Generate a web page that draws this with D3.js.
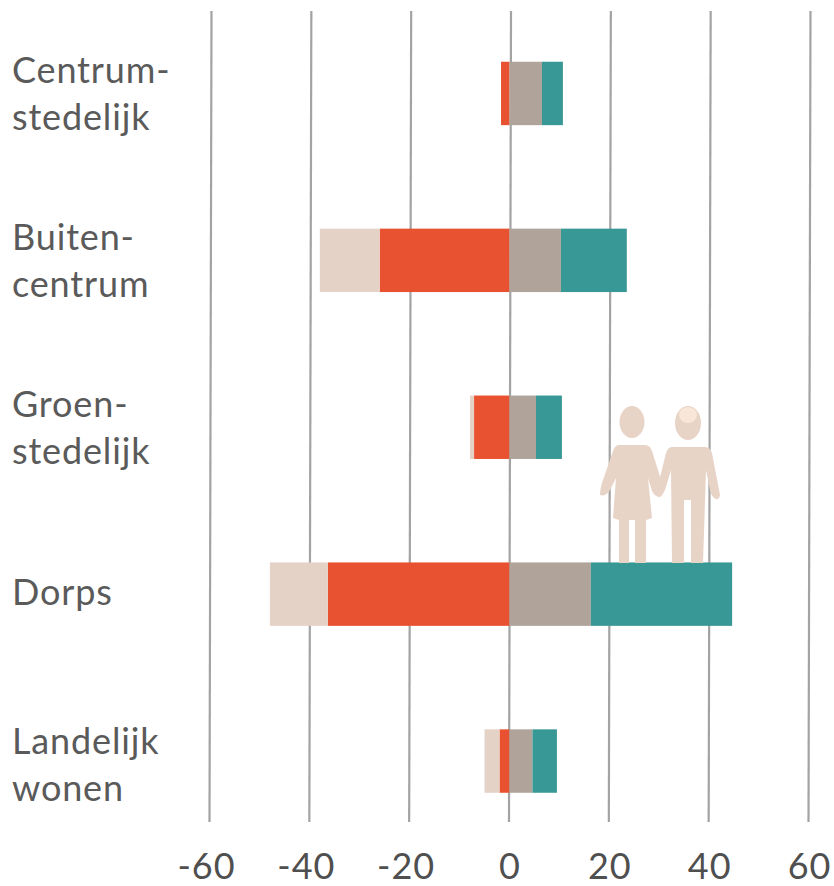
<!DOCTYPE html>
<html>
<head>
<meta charset="utf-8">
<script src="https://cdn.jsdelivr.net/npm/d3@7"></script>
<style>
  html, body { margin: 0; background: #fff; }
  svg { display: block; }
  text { font-family: Lato, "Open Sans", sans-serif; }
</style>
</head>
<body>
<svg width="834" height="886"></svg>
<script>
(function () {
  "use strict";
  const categories = ["Centrum-stedelijk", "Buiten-centrum", "Groen-stedelijk", "Dorps", "Landelijk wonen"];
  const categoryLines = [["Centrum-", "stedelijk"], ["Buiten-", "centrum"], ["Groen-", "stedelijk"], ["Dorps"], ["Landelijk", "wonen"]];
  const redValues = [-1.7, -26, -7.1, -36.4, -2];
  const paleValues = [0, -12, -0.8, -11.6, -3];
  const greyValues = [6.5, 10.3, 5.3, 16.3, 4.6];
  const tealValues = [4.2, 13.2, 5.2, 28.3, 4.9];
  const tickValues = [-60, -40, -20, 0, 20, 40, 60];

  const seriesKeys = ["red", "pale", "grey", "teal"];
  const colors = { red: "#e95230", pale: "#e5d2c6", grey: "#b0a399", teal: "#389896" };

  const svg = d3.select("svg");
  const gridTop = 11;
  const gridBottom = 822;

  const x = d3.scaleLinear().domain([-60, 60]).range([210, 809]);
  const y = d3.scaleBand()
    .domain(categories)
    .range([10, 844.5])
    .paddingInner(0.62)
    .paddingOuter(0.31);

  // gridlines are just the axis ticks pulled up the full height
  const axis = svg.append("g")
    .attr("transform", `translate(0, ${gridBottom})`)
    .call(d3.axisBottom(x)
      .tickValues(tickValues)
      .tickFormat((d) => String(d))
      .tickSizeInner(-(gridBottom - gridTop))
      .tickSizeOuter(0)
      .tickPadding(31));
  axis.select(".domain").remove();
  // the original lines lean very slightly to the right going up
  axis.selectAll(".tick line")
    .attr("x1", -1)
    .attr("x2", 1)
    .attr("stroke", "#a3a3a3")
    .attr("stroke-width", 2.2);
  axis.selectAll(".tick text")
    .attr("fill", "#4f4f4f")
    .style("letter-spacing", "1px")
    .style("font-size", "36px");
  axis.selectAll(".tick").filter((d) => d < 0).select("text").attr("dx", -4);

  const rows = categories.map((c, i) => ({
    category: c,
    red: redValues[i],
    pale: paleValues[i],
    grey: greyValues[i],
    teal: tealValues[i]
  }));
  const stacked = d3.stack()
    .keys(seriesKeys)
    .offset(d3.stackOffsetDiverging)(rows);

  svg.append("g")
    .selectAll("g")
    .data(stacked)
    .join("g")
    .attr("fill", (s) => colors[s.key])
    .selectAll("rect")
    .data((s) => s)
    .join("rect")
    .attr("x", (d) => x(Math.min(d[0], d[1])))
    .attr("width", (d) => Math.abs(x(d[1]) - x(d[0])))
    .attr("y", (d) => y(d.data.category))
    .attr("height", y.bandwidth());

  // category labels, broken over lines like the original
  const lineGap = 47;
  const labelNudge = { "Dorps": -3, "Landelijk wonen": 3 };
  svg.append("g")
    .selectAll("text")
    .data(categories)
    .join("text")
    .attr("fill", "#5a5a5a")
    .style("font-size", "36px")
    .style("letter-spacing", "0.85px")
    .each(function (c, i) {
      const lines = categoryLines[i];
      const mid = y(c) + y.bandwidth() / 2 + (labelNudge[c] || 0);
      d3.select(this)
        .selectAll("tspan")
        .data(lines)
        .join("tspan")
        .attr("x", 12)
        .attr("y", (l, j) => mid + (j - (lines.length - 1) / 2) * lineGap + 13.5)
        .text((l) => l);
    });

  // the couple standing on the Dorps bar
  const skin = "#e8d3c7";
  const people = svg.append("g").attr("fill", skin);
  people.append("ellipse").attr("cx", 632).attr("cy", 422).attr("rx", 12.5).attr("ry", 16);
  people.append("path").attr("d",
    "M619 445 L645 445 Q650 445 652 451 L662 483 Q663 492 660 497 Q655 497 652 491 " +
    "L648 478 L652 518 L646 520 L646 563 L635 563 L635 520 L629 520 L629 563 " +
    "L619 563 L619 520 L613 518 L616 478 L610 490 Q606 497 600 495 Q600 490 602 483 " +
    "L613 451 Q615 445 619 445 Z");
  people.append("ellipse").attr("cx", 688).attr("cy", 423).attr("rx", 13).attr("ry", 17);
  people.append("ellipse").attr("cx", 688).attr("cy", 415).attr("rx", 9).attr("ry", 8).attr("fill", "#f8e6d8");
  people.append("path").attr("d",
    "M672 447 L705 447 Q710 447 712 453 L720 495 Q719 500 716 499 Q712 498 710 490 " +
    "L706 470 L703 563 L691 563 L691 500 L684 500 L684 563 L672 563 " +
    "L671 470 L665 490 Q662 496 660 497 L657 490 L666 453 Q668 447 672 447 Z");
})();
</script>
</body>
</html>
